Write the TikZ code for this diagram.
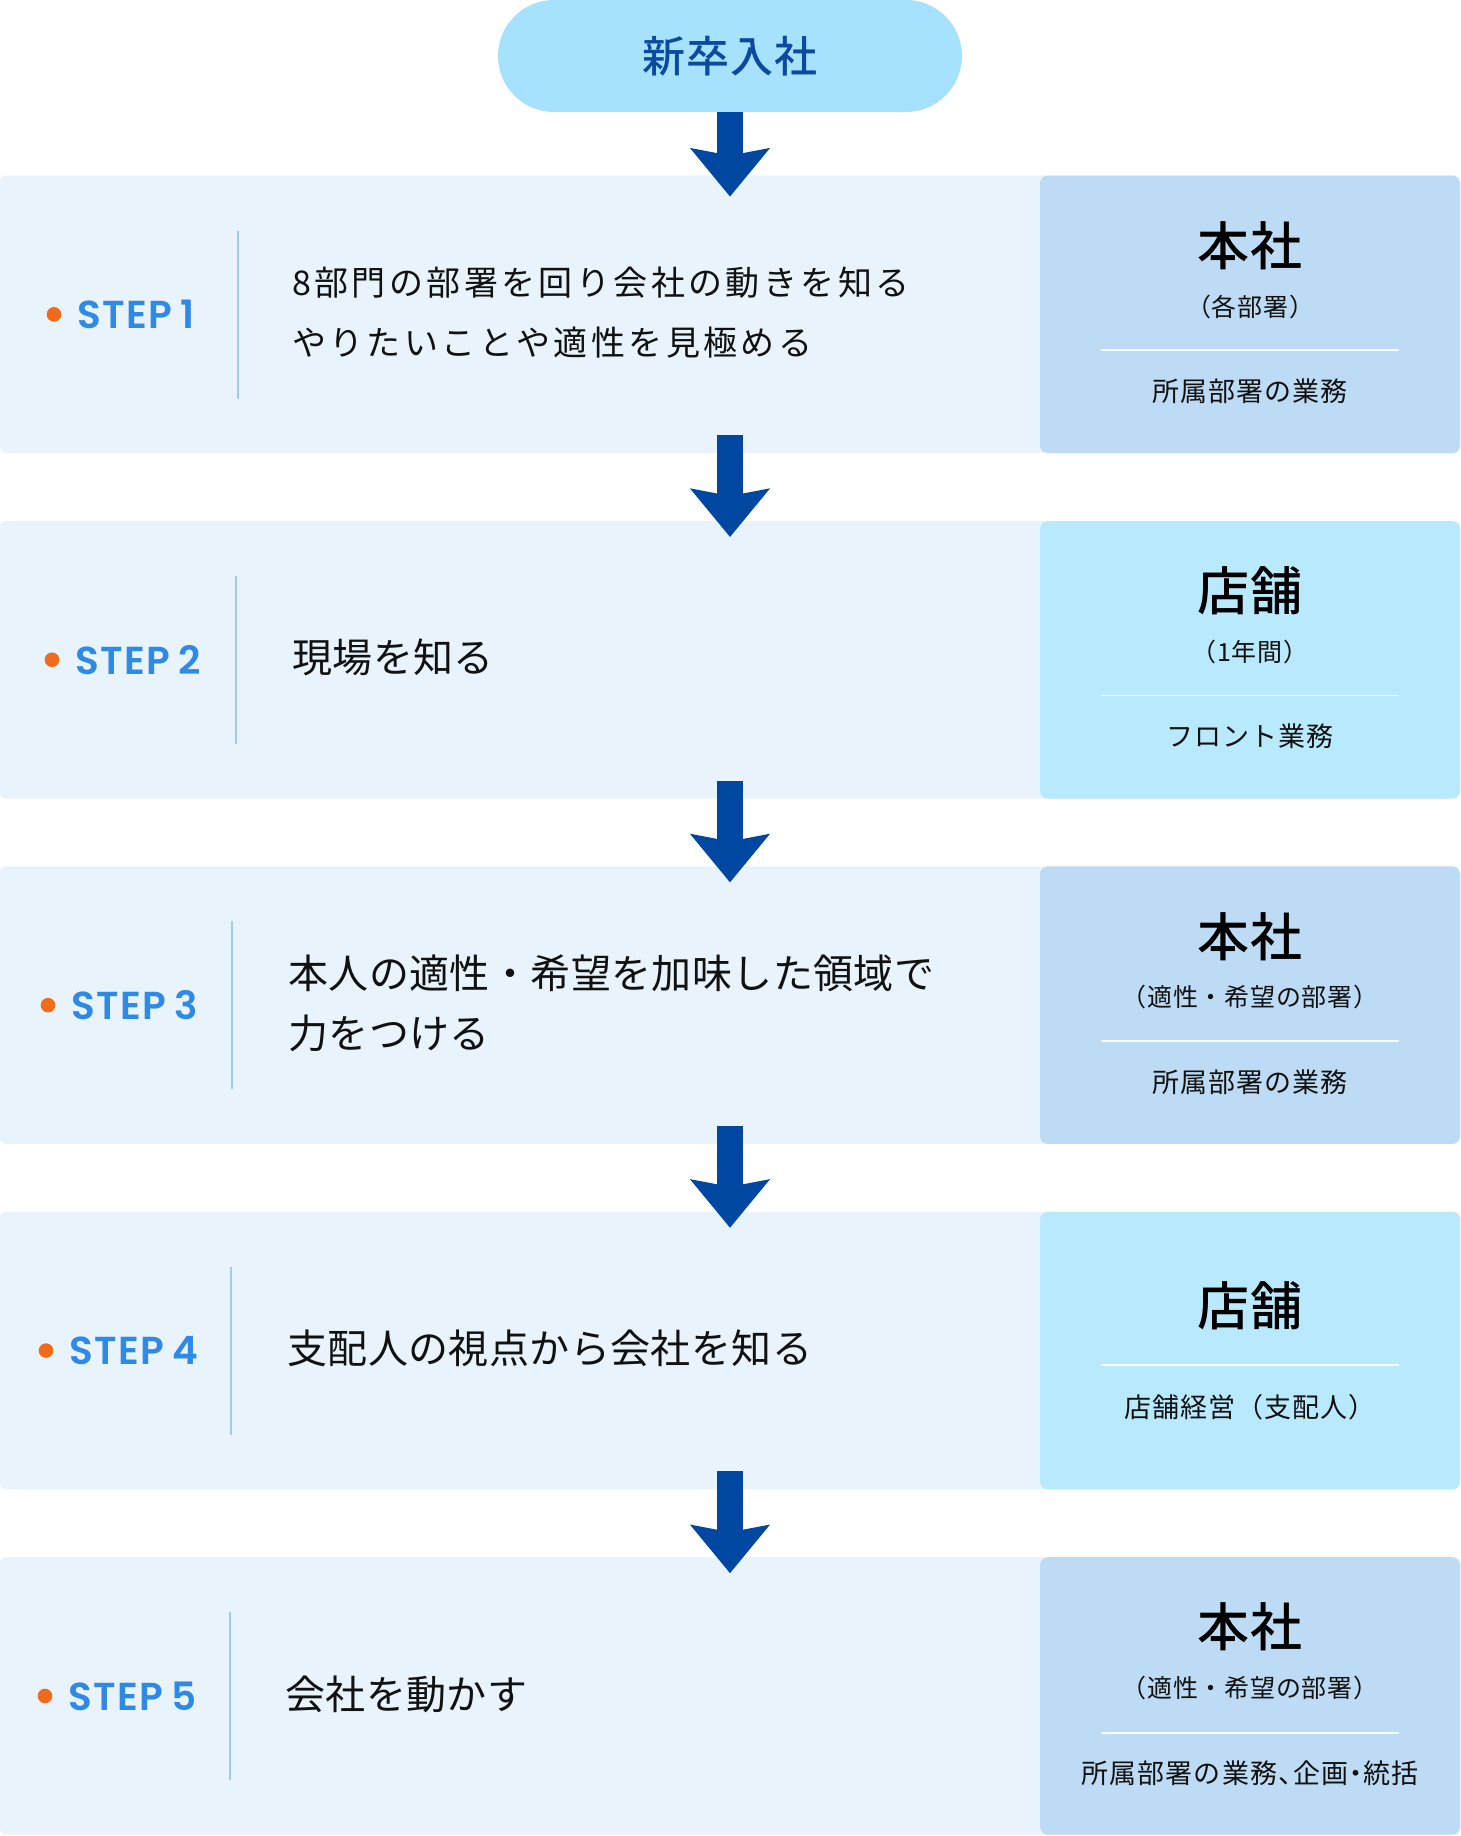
\documentclass[tikz,border=0pt]{standalone}
\usepackage{fontspec}
\setmainfont{Noto Sans CJK JP}
\newfontfamily\titlefont{Noto Sans CJK JP Medium}[LetterSpace=2]
\newfontfamily\bodyfont{Noto Sans CJK JP}[LetterSpace=1]
\newfontfamily\bodyfontA{Noto Sans CJK JP}[LetterSpace=10]
\newfontfamily\panelfont{Noto Sans CJK JP}[LetterSpace=4]
\newfontfamily\subfont{Noto Sans CJK JP}[LetterSpace=3]
\newfontfamily\stepfont{Poppins}[UprightFont=* SemiBold,LetterSpace=4]
\usetikzlibrary{positioning,arrows.meta,calc}

\definecolor{bandbg}{HTML}{E8F3FC}
\definecolor{officebg}{HTML}{BDDBF4}
\definecolor{shopbg}{HTML}{B9E9FD}
\definecolor{pillbg}{HTML}{A6E2FD}
\definecolor{pilltext}{HTML}{0B4A9E}
\definecolor{flowblue}{HTML}{0047A1}
\definecolor{stepblue}{HTML}{2E8AE5}
\definecolor{dotorange}{HTML}{F26A1B}
\definecolor{rulesoft}{HTML}{9FCBF2}
\definecolor{inktext}{HTML}{111111}

\newcommand{\fsz}[2]{\fontsize{#1}{#2}\selectfont}

\begin{document}
\begin{tikzpicture}[x=1pt,y=-1pt,
    pill/.style={rectangle,rounded corners=56pt,fill=pillbg,minimum width=464pt,minimum height=112pt,inner sep=0pt,outer sep=0pt,text=pilltext,font=\titlefont\fsz{43}{43}},
    band/.style={rectangle,fill=bandbg,rounded corners=6pt,minimum width=1460pt,minimum height=277.5pt,inner sep=0pt,outer sep=0pt},
    panel/.style={rectangle,rounded corners=8pt,minimum width=420pt,minimum height=277.5pt,inner sep=0pt,outer sep=0pt,anchor=east},
    dot/.style={circle,fill=dotorange,minimum size=14.6pt,inner sep=0pt,outer sep=0pt},
    steplabel/.style={inner sep=0pt,outer sep=0pt,text=stepblue,font=\stepfont\fsz{39}{39}},
    rowtext/.style={inner sep=0pt,anchor=west,align=left,text=inktext,font=\bodyfont\fsz{40}{60}},
    rowtextA/.style={rowtext,font=\bodyfontA\fsz{34}{60}},
    ptitle/.style={inner sep=0pt,text=black,font=\titlefont\fsz{52}{52}},
    psub/.style={inner sep=0pt,text=inktext,font=\subfont\fsz{25}{25}},
    pbody/.style={inner sep=0pt,text=inktext,font=\panelfont\fsz{27}{27}},
    steprule/.style={draw=rulesoft,line width=2pt},
    panelrule/.style={draw=white!70!bandbg,line width=1.5pt},
    flow/.style={draw=flowblue,line width=26pt,-{Stealth[length=48pt,width=78pt,inset=7pt]}}]

  \fill[white] (0,0) rectangle (1460,1836);
  \useasboundingbox (0,0) rectangle (1460,1836);

  % start
  \node[pill] (entry) at (730,56) {新卒入社};

  % steps
  \foreach \i/\dx/\lx/\tx/\pc/\rs/\txt in {
      1/54/238/292/officebg/rowtextA/{8部門の部署を回り会社の動きを知る\\やりたいことや適性を見極める},
      2/52/236/292/shopbg/rowtext/{現場を知る},
      3/48/232/288/officebg/rowtext/{本人の適性・希望を加味した領域で\\力をつける},
      4/46/231/287/shopbg/rowtext/{支配人の視点から会社を知る},
      5/45/230/285/officebg/rowtext/{会社を動かす}}
  {
    \pgfmathsetmacro\yt{175.6+345.4*(\i-1)}
    \pgfmathsetmacro\yc{\yt+138.75}
    \node[band] (band\i) at (730,\yc) {};
    \node[panel,fill=\pc] (panel\i) at (band\i.east) {};
    \node[dot] (dot\i) at (\dx,\yc) {};
    \node[steplabel,right=16pt of dot\i] (step\i) {STEP\kern8pt\i};
    \draw[steprule] (\lx,\yt+55) -- (\lx,\yt+223);
    \node[\rs] (text\i) at (\tx,\yc-2) {\txt};
  }

  % right side: where
  \node[ptitle] (title1) at ([yshift=-70pt]panel1.north) {本社};
  \node[psub] (sub1) at ([yshift=-131pt]panel1.north) {（各部署）};
  \draw[panelrule] ([xshift=-149pt,yshift=-174.5pt]panel1.north) -- ([xshift=149pt,yshift=-174.5pt]panel1.north);
  \node[pbody] (work1) at ([yshift=-215.5pt]panel1.north) {所属部署の業務};

  \node[ptitle] (title2) at ([yshift=-70pt]panel2.north) {店舗};
  \node[psub] (sub2) at ([yshift=-131pt]panel2.north) {（1年間）};
  \draw[panelrule] ([xshift=-149pt,yshift=-174.5pt]panel2.north) -- ([xshift=149pt,yshift=-174.5pt]panel2.north);
  \node[pbody] (work2) at ([yshift=-215.5pt]panel2.north) {フロント業務};

  \node[ptitle] (title3) at ([yshift=-70pt]panel3.north) {本社};
  \node[psub] (sub3) at ([yshift=-131pt]panel3.north) {（適性・希望の部署）};
  \draw[panelrule] ([xshift=-149pt,yshift=-174.5pt]panel3.north) -- ([xshift=149pt,yshift=-174.5pt]panel3.north);
  \node[pbody] (work3) at ([yshift=-215.5pt]panel3.north) {所属部署の業務};

  \node[ptitle] (title4) at ([yshift=-94pt]panel4.north) {店舗};
  \draw[panelrule] ([xshift=-149pt,yshift=-153pt]panel4.north) -- ([xshift=149pt,yshift=-153pt]panel4.north);
  \node[pbody] (work4) at ([yshift=-195.5pt]panel4.north) {店舗経営（支配人）};

  \node[ptitle] (title5) at ([yshift=-70pt]panel5.north) {本社};
  \node[psub] (sub5) at ([yshift=-131pt]panel5.north) {（適性・希望の部署）};
  \draw[panelrule] ([xshift=-149pt,yshift=-176pt]panel5.north) -- ([xshift=149pt,yshift=-176pt]panel5.north);
  \node[pbody] (work5) at ([yshift=-216pt]panel5.north) {所属部署の業務、\kern-12pt企画\kern-6pt・\kern-6pt統括};

  % arrows
  \draw[flow] (entry.south) -- ([yshift=-21pt]band1.north);
  \foreach \i [evaluate=\i as \j using int(\i+1)] in {1,...,4}
    \draw[flow] ([yshift=18pt]band\i.south) -- ([yshift=-16pt]band\j.north);

\end{tikzpicture}
\end{document}
